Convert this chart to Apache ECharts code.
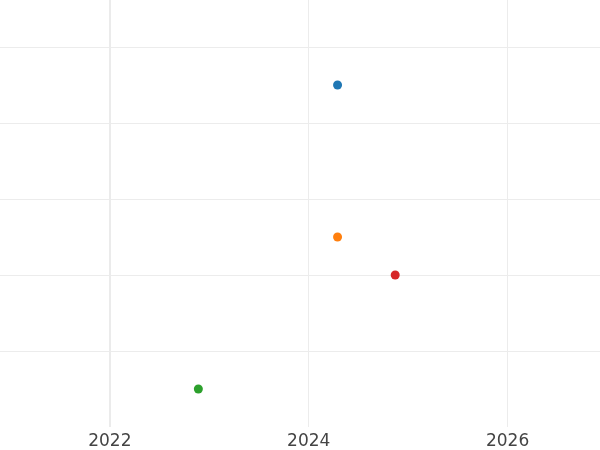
<!DOCTYPE html>
<html>
<head>
<meta charset="utf-8">
<script src="https://cdn.jsdelivr.net/npm/echarts@6/dist/echarts.min.js"></script>
<style>
html,body{margin:0;padding:0;background:#fff;overflow:hidden;width:600px;height:450px;}
#c{position:absolute;left:-89px;top:-29px;width:696px;height:479px;}
</style>
</head>
<body>
<div id="c"></div>
<script>
// Data
const seriesNames = ['A', 'B', 'C', 'D'];
const seriesColors = ['#1f77b4', '#ff7f0e', '#d62728', '#2ca02c'];
const xValues = [2024.29, 2024.29, 2024.87, 2022.89];
const yValues = [4.5, 2.5, 2.0, 0.5];
const xTicks = [2022, 2024, 2026];

const chart = echarts.init(document.getElementById('c'), null, {renderer: 'canvas'});
const series = seriesNames.map((n, i) => ({
  name: n,
  type: 'scatter',
  symbolSize: 9,
  itemStyle: {color: seriesColors[i], opacity: 1},
  data: [[xValues[i], yValues[i]]],
  z: 5
}));
series.push({
  type: 'scatter',
  data: [],
  silent: true,
  markLine: {
    silent: true,
    symbol: 'none',
    label: {show: false},
    lineStyle: {color: '#ebebeb', width: 2, type: 'solid', opacity: 1},
    data: [{xAxis: xTicks[0]}]
  }
});
chart.setOption({
  animation: false,
  backgroundColor: '#ffffff',
  grid: {left: 0, right: 0, top: 0, bottom: 23, containLabel: false},
  xAxis: {
    type: 'value',
    min: 2020, max: 2027, interval: 2,
    axisLine: {show: false},
    axisTick: {show: false},
    axisLabel: {
      show: true, color: '#444', fontSize: 17, fontFamily: 'DejaVu Sans', margin: 6,
      showMinLabel: false, showMaxLabel: false,
      formatter: v => xTicks.includes(v) ? String(v) : ''
    },
    splitLine: {show: true, showMinLine: false, showMaxLine: false, lineStyle: {color: '#ececec', width: 1}}
  },
  yAxis: {
    type: 'value',
    min: 0, max: 6, interval: 1,
    axisLine: {show: false},
    axisTick: {show: false},
    axisLabel: {show: false},
    splitLine: {show: true, showMinLine: false, showMaxLine: false, lineStyle: {color: '#ececec', width: 1}}
  },
  series: series
});
</script>
</body>
</html>
